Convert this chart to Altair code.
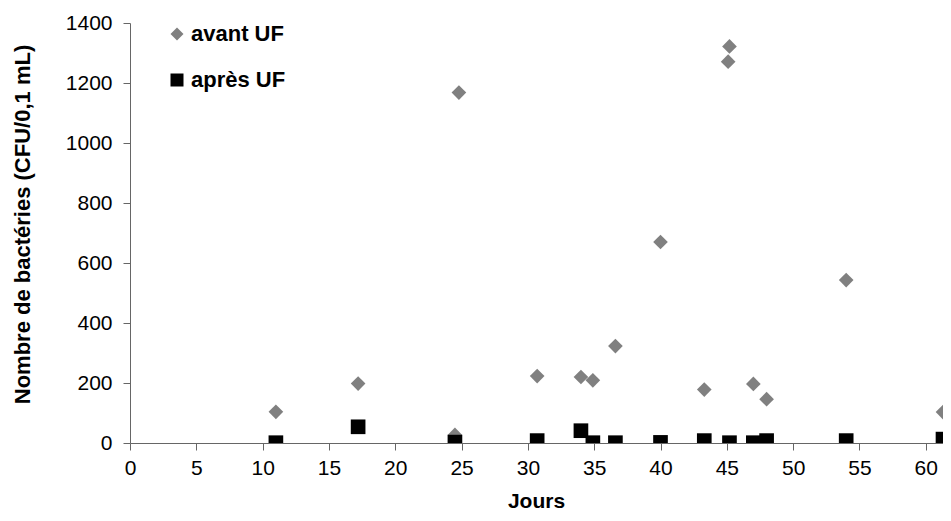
import altair as alt
import pandas as pd

# Data
series_names = ["avant UF", "après UF"]

avant_jours = [11, 17.2, 24.5, 24.8, 30.7, 34.0, 34.9, 36.6, 40.0, 43.3, 45.1, 45.2, 47.0, 48.0, 54.0, 61.3]
avant_vals = [104, 198, 27, 1168, 223, 220, 209, 323, 670, 178, 1271, 1322, 197, 146, 543, 103]

apres_jours = [11, 17.2, 24.5, 30.7, 34.0, 34.9, 36.6, 40.0, 43.3, 45.2, 47.0, 48.0, 54.0, 61.3]
apres_vals = [1, 54, 3, 8, 41, 1, 1, 2, 8, 1, 1, 8, 8, 13]

x_ticks = [0, 5, 10, 15, 20, 25, 30, 35, 40, 45, 50, 55, 60]
y_ticks = [0, 200, 400, 600, 800, 1000, 1200, 1400]

rows = []
for j, v in zip(avant_jours, avant_vals):
    rows.append({"Jours": j, "val": v, "serie": series_names[0], "ord": 0})
for j, v in zip(apres_jours, apres_vals):
    rows.append({"Jours": j, "val": v, "serie": series_names[1], "ord": 1})
df = pd.DataFrame(rows)

FONT = "Liberation Sans"

legend_opts = dict(title=None, orient="none", legendX=36, legendY=0,
                   symbolSize=169, labelFontSize=22, labelFontWeight="bold",
                   labelColor="#000000", rowPadding=24, labelOffset=3,
                   padding=0, symbolStrokeWidth=0)

chart = alt.Chart(df).mark_point(filled=True, size=215, opacity=1, clip=True).encode(
    x=alt.X("Jours:Q",
            scale=alt.Scale(domain=[0, 61.3], nice=False, zero=False),
            axis=alt.Axis(title="Jours", values=x_ticks, grid=False, format="d",
                          tickSize=7, labelPadding=7, labelFontSize=21,
                          titleFontSize=21, titleFontWeight="bold",
                          titleX=406, titleY=58, titleBaseline="middle",
                          labelFlush=False)),
    y=alt.Y("val:Q",
            scale=alt.Scale(domain=[0, 1400], nice=False),
            axis=alt.Axis(title="Nombre de bactéries (CFU/0,1 mL)", values=y_ticks, grid=False,
                          format="d",
                          tickSize=7, labelPadding=11, labelFontSize=21,
                          titleFontSize=22, titleFontWeight="bold",
                          titleX=-108, titleY=201, titleBaseline="middle",
                          labelFlush=False)),
    color=alt.Color("serie:N",
                    scale=alt.Scale(domain=series_names, range=["#808080", "#000000"]),
                    legend=alt.Legend(**legend_opts)),
    shape=alt.Shape("serie:N",
                    scale=alt.Scale(domain=series_names, range=["diamond", "square"]),
                    legend=alt.Legend(**legend_opts)),
    order=alt.Order("ord:Q"),
).properties(
    width=813,
    height=420,
    autosize=alt.AutoSizeParams(type="none"),
    padding={"left": 122, "top": 15, "right": 0, "bottom": 70},
).configure(
    font=FONT,
).configure_view(
    stroke=None,
).configure_axis(
    domainColor="#666666",
    tickColor="#666666",
    labelColor="#000000",
    titleColor="#000000",
    labelFont=FONT,
    titleFont=FONT,
).configure_legend(
    labelFont=FONT,
)

chart.save("out.html", embed_options={"renderer": "svg", "actions": False})
